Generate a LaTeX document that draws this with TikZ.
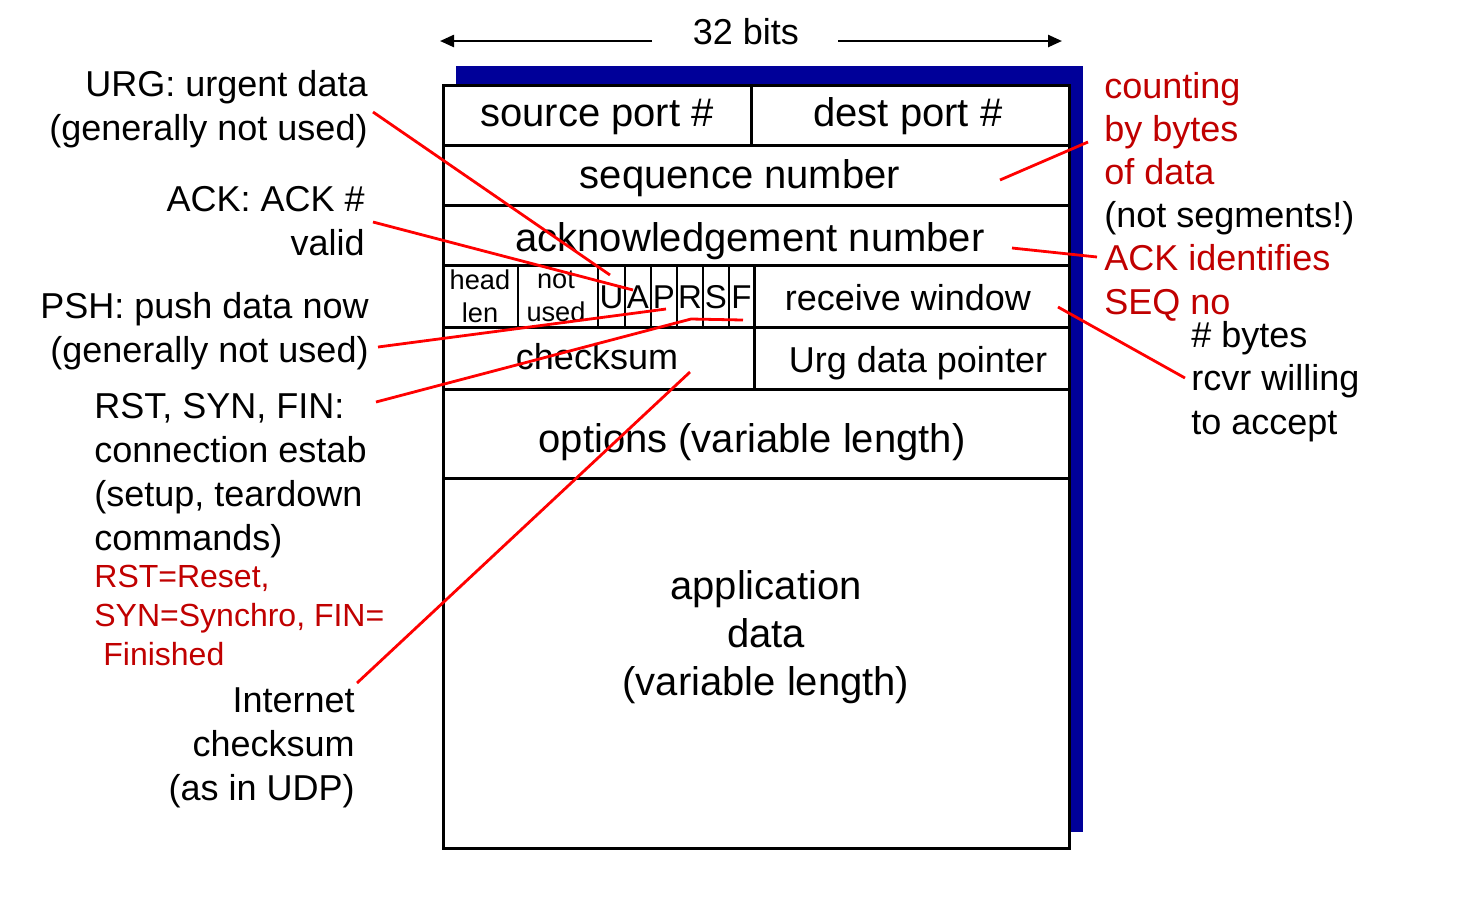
\documentclass[tikz,border=0pt]{standalone}
\usepackage{fontspec}
\setmainfont{Liberation Sans}
\usetikzlibrary{arrows.meta}
\definecolor{shadowblue}{RGB}{0,0,153}
\definecolor{darkred}{RGB}{192,0,0}
\begin{document}
\begin{tikzpicture}[x=0.5pt,y=-0.5pt,
  field/.style={font=\fontsize{20}{24}\selectfont, inner sep=0pt, anchor=base},
  midfield/.style={font=\fontsize{18}{22}\selectfont, inner sep=0pt, anchor=base},
  tiny/.style={font=\fontsize{13.6}{16.5}\selectfont, inner sep=0pt, anchor=base, align=center},
  flag/.style={font=\fontsize{16.5}{18}\selectfont, inner sep=0pt, anchor=base},
  lab/.style={font=\fontsize{18}{22}\selectfont, inner sep=0pt},
  redlab/.style={font=\fontsize{16}{19.5}\selectfont, inner sep=0pt, text=darkred},
  grid/.style={line width=1.5pt},
  thin grid/.style={line width=1.2pt},
  pointer/.style={red, line width=1.4pt},
  widtharrow/.style={line width=1.2pt, -{Triangle[length=7pt,width=6pt]}}]
\useasboundingbox (0,0) rectangle (1469,902);

% shadow and frame
\fill[shadowblue] (456,66) rectangle (1083,832);
\draw[grid, fill=white] (443,85) rectangle (1069,848);
\foreach \yy in {145,205,265,327,389,478} \draw[grid] (443,\yy) -- (1069,\yy);
\draw[grid] (751,85) -- (751,145);
\foreach \xx in {518,598,625,651,677,703,729} \draw[thin grid] (\xx,265) -- (\xx,327);
\draw[grid] (754,265) -- (754,389);

% width indicator
\node[midfield] (bits) at (746,44) {32 bits};
\coordinate (bitsL) at (652,41);
\coordinate (bitsLend) at (440,41);
\coordinate (bitsR) at (838,41);
\coordinate (bitsRend) at (1062,41);
\draw[widtharrow] (bitsL) -- (bitsLend);
\draw[widtharrow] (bitsR) -- (bitsRend);

% field texts
\node[field] (src) at (597,126) {source port \#};
\node[field] (dst) at (908,126) {dest port \#};
\node[field] (seq) at (740,188) {sequence number};
\node[field] (ackn) at (750,251) {acknowledgement number};
\node[tiny] (hl) at (480,322) {head\\len};
\node[tiny] (nu) at (556,321) {not\\used};
\node[flag] (fu) at (611.5,308) {U};
\node[flag] (fa) at (638,308) {A};
\node[flag] (fp) at (664,308) {P};
\node[flag] (fr) at (690,308) {R};
\node[flag] (fs) at (716,308) {S};
\node[flag] (ff) at (741.5,308) {F};
\node[midfield] (rwin) at (908,310) {receive window};
\node[midfield] (csum) at (597,369) {checksum};
\node[midfield] (urgp) at (918,372) {Urg data pointer};
\node[field] (opt) at (752,452) {options (variable length)};
\node[field, align=center, font=\fontsize{20}{24}\selectfont] (app) at (766,695) {application\\data\\(variable length)};

% left labels (anchors on the last line's baseline)
\node[lab, align=right, anchor=base east] (urg) at (368,140) {URG: urgent data\\(generally not used)};
\node[lab, align=right, anchor=base east] (ack) at (365,255) {ACK: ACK \#\\valid};
\node[lab, align=right, anchor=base east] (psh) at (369,362) {PSH: push data now\\(generally not used)};
\node[lab, align=left, anchor=base west] (rst) at (94,550) {RST, SYN, FIN:\\connection estab\\(setup, teardown\\commands)};
\node[redlab, align=left, anchor=base west] (rstred) at (94,665) {RST=Reset,\\SYN=Synchro, FIN=\\\hspace*{4.5pt}Finished};
\node[lab, align=right, anchor=base east] (inet) at (355,800) {Internet\\checksum\\(as in UDP)};

% right labels
\node[lab, align=left, anchor=base west, font=\fontsize{18}{21.6}\selectfont] (cnt) at (1104,314)
  {\textcolor{darkred}{counting}\\\textcolor{darkred}{by bytes}\\\textcolor{darkred}{of data}\\(not segments!)\\\textcolor{darkred}{ACK identifies}\\\textcolor{darkred}{SEQ no}};
\node[lab, align=left, anchor=base west, font=\fontsize{18}{21.6}\selectfont] (bytes) at (1191,434) {\# bytes\\rcvr willing\\to accept};

% pointer end points
\coordinate (urgS) at (373,112);   \coordinate (urgE) at (610,275);
\coordinate (ackS) at (373,222);   \coordinate (ackE) at (633,290);
\coordinate (pshS) at (378,347);   \coordinate (pshE) at (666,309);
\coordinate (rstS) at (376,402);   \coordinate (rstM) at (691,319); \coordinate (rstE) at (743,320);
\coordinate (inetS) at (357,683);  \coordinate (inetE) at (690,372);
\coordinate (cntS) at (1088,142);  \coordinate (cntE) at (1000,180);
\coordinate (seqS) at (1097,257);  \coordinate (seqE) at (1012,248);
\coordinate (byS) at (1185,378);   \coordinate (byE) at (1058,307);

\draw[pointer] (urgS) -- (urgE);
\draw[pointer] (ackS) -- (ackE);
\draw[pointer] (pshS) -- (pshE);
\draw[pointer] (rstS) -- (rstM) -- (rstE);
\draw[pointer] (inetS) -- (inetE);
\draw[pointer] (cntS) -- (cntE);
\draw[pointer] (seqS) -- (seqE);
\draw[pointer] (byS) -- (byE);
\end{tikzpicture}
\end{document}
